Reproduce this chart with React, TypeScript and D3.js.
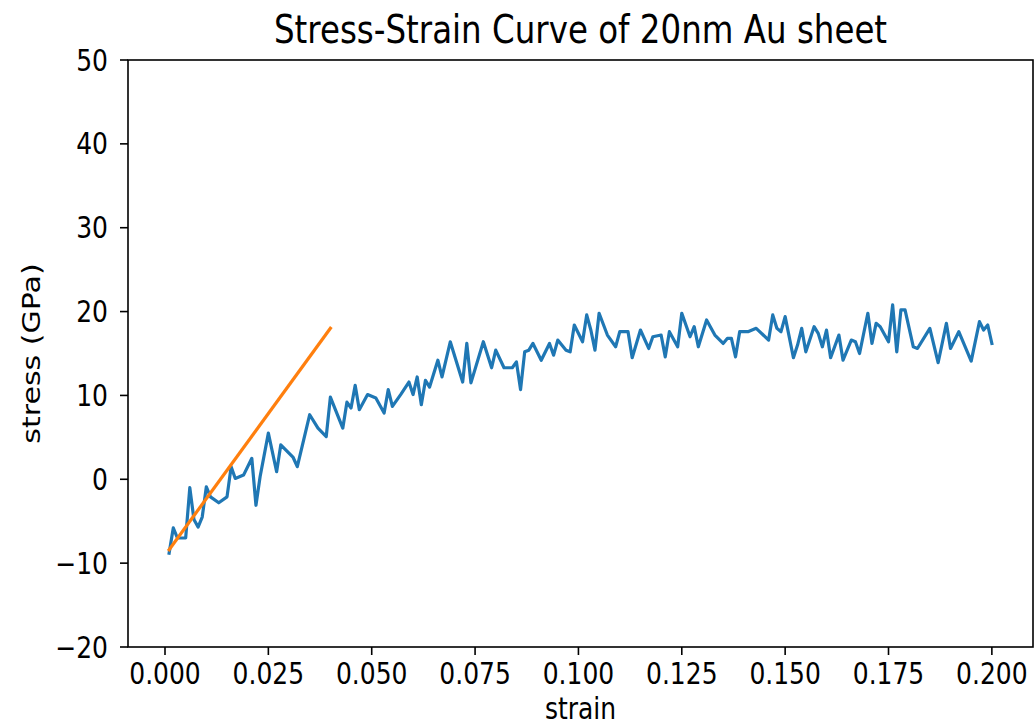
import React from 'react';
import * as d3 from 'd3';

// stress-strain samples
const strain = [
  0.001, 0.002, 0.003, 0.005, 0.006, 0.007, 0.008, 0.009, 0.010, 0.011,
  0.013, 0.015, 0.016, 0.017, 0.019, 0.021, 0.022, 0.023, 0.025, 0.027,
  0.028, 0.031, 0.032, 0.035, 0.037, 0.039, 0.040, 0.043, 0.044, 0.045,
  0.046, 0.047, 0.049, 0.051, 0.053, 0.054, 0.055, 0.057, 0.059, 0.060,
  0.061, 0.062, 0.063, 0.064, 0.066, 0.067, 0.069, 0.072, 0.073, 0.074,
  0.077, 0.079, 0.080, 0.082, 0.084, 0.085, 0.086, 0.087, 0.088, 0.089,
  0.091, 0.093, 0.094, 0.095, 0.097, 0.098, 0.099, 0.101, 0.102, 0.103,
  0.104, 0.105, 0.107, 0.109, 0.110, 0.112, 0.113, 0.115, 0.117, 0.118,
  0.120, 0.121, 0.122, 0.124, 0.125, 0.127, 0.128, 0.129, 0.131, 0.133,
  0.135, 0.136, 0.137, 0.138, 0.139, 0.141, 0.143, 0.146, 0.147, 0.148,
  0.149, 0.150, 0.152, 0.153, 0.154, 0.155, 0.157, 0.158, 0.159, 0.160,
  0.161, 0.163, 0.164, 0.166, 0.167, 0.168, 0.170, 0.171, 0.172, 0.173,
  0.175, 0.176, 0.177, 0.178, 0.179, 0.181, 0.182, 0.185, 0.187, 0.189,
  0.190, 0.192, 0.195, 0.197, 0.198, 0.199, 0.200,
];
const stress = [
  -8.8, -5.8, -7.0, -7.0, -1.0, -4.8, -5.7, -4.5, -0.9, -2.1,
  -2.8, -2.1, 1.5, 0.1, 0.5, 2.5, -3.1, 0.3, 5.5, 0.9,
  4.1, 2.6, 1.5, 7.7, 6.1, 5.1, 9.8, 6.1, 9.2, 8.5,
  11.2, 8.3, 10.1, 9.7, 7.9, 10.7, 8.7, 10.1, 11.6, 10.1,
  12.2, 8.9, 11.8, 11.0, 14.2, 12.2, 16.4, 11.6, 16.2, 11.5,
  16.4, 13.3, 15.4, 13.3, 13.3, 14.0, 10.7, 15.2, 15.4, 16.2,
  14.2, 16.2, 14.8, 16.6, 15.4, 15.2, 18.4, 16.4, 19.6, 17.8,
  15.4, 19.8, 17.2, 15.8, 17.6, 17.6, 14.5, 17.8, 15.6, 17.0,
  17.2, 14.6, 17.6, 15.8, 19.8, 17.0, 18.2, 15.8, 19.0, 17.2,
  16.2, 16.8, 16.8, 14.6, 17.6, 17.6, 18.0, 16.6, 19.6, 18.0,
  17.6, 19.4, 14.5, 16.0, 18.0, 15.2, 18.2, 17.4, 15.8, 17.8,
  14.5, 17.2, 14.2, 16.6, 16.4, 15.0, 19.8, 16.2, 18.6, 18.2,
  16.4, 20.8, 15.2, 20.2, 20.2, 15.8, 15.6, 18.0, 13.9, 18.6,
  15.6, 17.6, 14.1, 18.8, 17.8, 18.4, 16.2,
];

// linear fit of the elastic part
const fitStrain = [0.001, 0.04];
const fitStress = [-8.4, 18.0];

const xTicks = [0, 0.025, 0.05, 0.075, 0.1, 0.125, 0.15, 0.175, 0.2];
const yTicks = [-20, -10, 0, 10, 20, 30, 40, 50];

const W = 1035;
const H = 728;
const left = 128, right = 1033, top = 60, bottom = 647;
const font = "'DejaVu Sans', sans-serif";
const stretch = 1.18; // the source image text is taller than it is wide

type TxtProps = { x: number; y: number; size: number; anchor?: string; rotate?: number; dy?: string; children: React.ReactNode };

function Txt({ x, y, size, anchor = 'middle', rotate = 0, dy, children }: TxtProps) {
  return (
    <text
      transform={`translate(${x},${y}) scale(1,${stretch}) rotate(${rotate})`}
      textAnchor={anchor}
      dy={dy}
      fontFamily={font}
      fontSize={size}
      fill="#000"
    >
      {children}
    </text>
  );
}

export default function App() {
  const x = d3.scaleLinear().domain([-0.00895, 0.20995]).range([left, right]);
  const y = d3.scaleLinear().domain([-20, 50]).range([bottom, top]);

  const line = d3.line<number>()
    .x((_, i) => x(strain[i]))
    .y(d => y(d));
  const fitLine = d3.line<number>()
    .x((_, i) => x(fitStrain[i]))
    .y(d => y(d));

  const fmtY = (v: number) => (v < 0 ? '\u2212' + Math.abs(v) : String(v));

  return (
    <svg width={W} height={H} style={{ position: 'absolute', left: 0, top: 0, background: '#fff' }}>
      <rect x={0} y={0} width={W} height={H} fill="#fff" />
      <Txt x={(left + right) / 2} y={43} size={32.5}>Stress-Strain Curve of 20nm Au sheet</Txt>

      <path d={line(stress) || ''} fill="none" stroke="#1f77b4" strokeWidth={3.2} strokeLinejoin="round" strokeLinecap="square" />
      <path d={fitLine(fitStress) || ''} fill="none" stroke="#ff7f0e" strokeWidth={3.2} strokeLinecap="square" />

      <rect x={left} y={top} width={right - left} height={bottom - top} fill="none" stroke="#000" strokeWidth={1.6} />

      {xTicks.map(t => (
        <g key={'x' + t}>
          <line x1={x(t)} x2={x(t)} y1={bottom} y2={bottom + 8} stroke="#000" strokeWidth={1.6} />
          <Txt x={x(t)} y={684} size={25}>{t.toFixed(3)}</Txt>
        </g>
      ))}
      {yTicks.map(t => (
        <g key={'y' + t}>
          <line x1={left - 8} x2={left} y1={y(t)} y2={y(t)} stroke="#000" strokeWidth={1.6} />
          <Txt x={left - 20} y={y(t)} dy="0.36em" size={25} anchor="end">{fmtY(t)}</Txt>
        </g>
      ))}

      <Txt x={(left + right) / 2} y={719} size={25}>strain</Txt>
      <Txt x={40} y={(top + bottom) / 2} size={25.5} rotate={-90}>stress (GPa)</Txt>
    </svg>
  );
}
